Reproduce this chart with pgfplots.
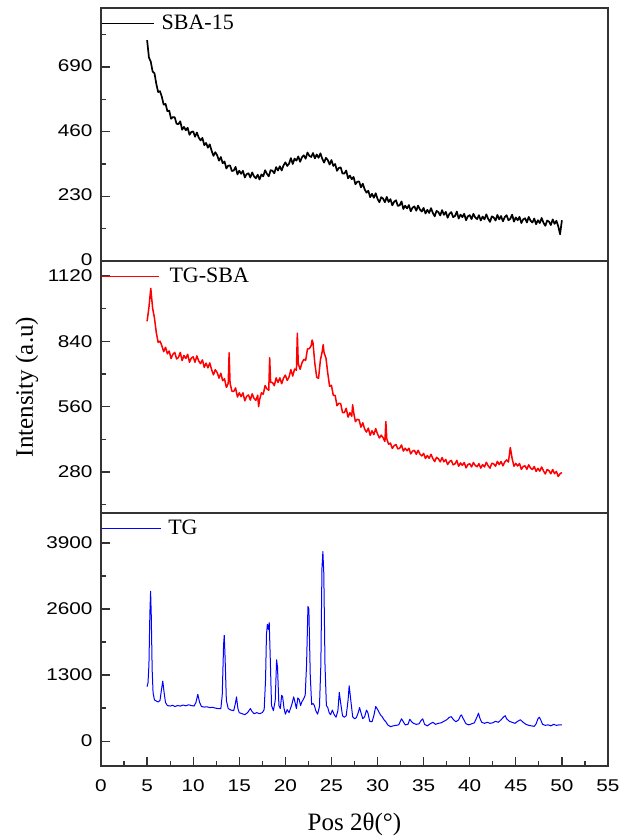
\documentclass[border=0pt]{standalone}
\usepackage{fontspec}
\setmainfont{Liberation Serif}
\setsansfont{Liberation Sans}
\newfontfamily\tickfont[FakeStretch=1.22]{Liberation Sans}
\usepackage{pgfplots}
\pgfplotsset{compat=1.18}
\pgfplotsset{
  panel/.style={
    scale only axis, width=507pt, xmin=0, xmax=55,
    axis line style={line width=1.4pt, black!80},
    tick align=inside, xtick pos=bottom, ytick pos=left,
    major tick length=9pt, minor tick length=5pt,
    every tick/.style={line width=1.2pt, black!80},
    tick label style={font=\tickfont\fontsize{17}{19}\selectfont},
    yticklabel style={xshift=-5pt},
    xticklabel style={yshift=-10pt},
    /pgf/number format/assume math mode=true,
    /pgf/number format/1000 sep={},
    scaled ticks=false,
    legend style={at={(0,1)}, anchor=north west, draw=none, fill=none,
      inner xsep=0pt, inner ysep=0pt, yshift=-7pt, nodes={inner sep=0pt},
      font=\fontsize{22}{24}\selectfont},
    legend cell align=left,
  },
}
\begin{document}
\begin{tikzpicture}
\useasboundingbox (0,0) rectangle (631pt,836pt);
% ---------------- top: SBA-15
\begin{axis}[panel, at={(101pt,575pt)}, anchor=south west, height=253pt,
  ymin=0, ymax=900, ytick={0,230,460,690}, minor ytick={115,345,575,805}, xtick=\empty,
  yticklabel style={yshift=1.5pt},
  legend image code/.code={\draw[#1, line width=1.2pt] (0pt,0pt) -- (52pt,0pt); \path (59pt,0pt);}]
\addplot[black, line width=1.7pt, line join=round, mark=none] coordinates {
(5.0,786)(5.2,724)(5.4,709)(5.6,674)(5.8,668)(6.0,630)(6.2,601)(6.4,604)(6.6,584)(6.8,556)
(7.0,559)(7.2,533)(7.4,535)(7.6,506)(7.8,512)(8.0,511)(8.2,488)(8.4,487)(8.6,497)(8.8,467)
(9.0,477)(9.2,465)(9.4,474)(9.6,449)(9.8,459)(10.0,461)(10.2,442)(10.4,457)(10.6,439)(10.8,429)
(11.0,438)(11.2,412)(11.4,420)(11.6,403)(11.8,415)(12.0,392)(12.2,374)(12.4,387)(12.6,376)(12.8,357)
(13.0,370)(13.2,348)(13.4,354)(13.6,329)(13.8,339)(14.0,340)(14.2,320)(14.4,322)(14.6,335)(14.8,308)
(15.0,321)(15.2,310)(15.4,321)(15.6,297)(15.8,309)(16.0,312)(16.2,297)(16.4,315)(16.6,301)(16.8,294)
(17.0,307)(17.2,290)(17.4,308)(17.6,301)(17.8,323)(18.0,310)(18.2,301)(18.4,323)(18.6,321)(18.8,312)
(19.0,334)(19.2,322)(19.4,337)(19.6,322)(19.8,340)(20.0,351)(20.2,338)(20.4,346)(20.6,366)(20.8,345)
(21.0,364)(21.2,357)(21.4,372)(21.6,353)(21.8,369)(22.0,376)(22.2,364)(22.4,386)(22.6,374)(22.8,370)
(23.0,384)(23.2,365)(23.4,379)(23.6,367)(23.8,383)(24.0,364)(24.2,350)(24.4,367)(24.6,359)(24.8,343)
(25.0,359)(25.2,338)(25.4,345)(25.6,321)(25.8,331)(26.0,333)(26.2,311)(26.4,311)(26.6,322)(26.8,294)
(27.0,304)(27.2,291)(27.4,299)(27.6,273)(27.8,282)(28.0,283)(28.2,262)(28.4,275)(28.6,255)(28.8,243)
(29.0,250)(29.2,227)(29.4,239)(29.6,225)(29.8,241)(30.0,221)(30.2,209)(30.4,227)(30.6,222)(30.8,209)
(31.0,228)(31.2,210)(31.4,220)(31.6,198)(31.8,211)(32.0,216)(32.2,196)(32.4,198)(32.6,212)(32.8,185)
(33.0,197)(33.2,187)(33.4,199)(33.6,177)(33.8,190)(34.0,194)(34.2,179)(34.4,197)(34.6,183)(34.8,176)
(35.0,189)(35.2,169)(35.4,182)(35.6,171)(35.8,188)(36.0,171)(36.2,159)(36.4,178)(36.6,174)(36.8,162)
(37.0,181)(37.2,164)(37.4,175)(37.6,154)(37.8,168)(38.0,174)(38.2,156)(38.4,160)(38.6,176)(38.8,151)
(39.0,165)(39.2,156)(39.4,168)(39.6,145)(39.8,159)(40.0,163)(40.2,149)(40.4,168)(40.6,155)(40.8,149)
(41.0,163)(41.2,144)(41.4,158)(41.6,148)(41.8,166)(42.0,150)(42.2,139)(42.4,159)(42.6,155)(42.8,144)
(43.0,164)(43.2,148)(43.4,160)(43.6,141)(43.8,156)(44.0,163)(44.2,145)(44.4,150)(44.6,165)(44.8,140)
(45.0,155)(45.2,145)(45.4,157)(45.6,135)(45.8,148)(46.0,152)(46.2,137)(46.4,157)(46.6,143)(46.8,137)
(47.0,151)(47.2,131)(47.4,145)(47.6,135)(47.8,153)(48.0,136)(48.2,125)(48.4,144)(48.6,140)(48.8,128)
(49.0,148)(49.2,132)(49.4,143)(49.6,124)(49.8,95)(50.0,145)
};
\addlegendentry{SBA-15}
\end{axis}
% ---------------- middle: TG-SBA
\begin{axis}[panel, at={(101pt,323pt)}, anchor=south west, height=252pt,
  ymin=105, ymax=1183, ytick={280,560,840,1120}, minor ytick={140,420,700,980}, xtick=\empty,
  ylabel={Intensity (a.u)},
  ylabel style={font=\fontsize{25}{27}\selectfont, at={(axis description cs:-0.146,0.5)}, anchor=center},
  legend image code/.code={\draw[#1, line width=1.2pt] (0pt,0pt) -- (57pt,0pt); \path (67pt,0pt);}]
\addplot[red, line width=1.5pt, line join=round, mark=none] coordinates {
(5.0,925)(5.2,984)(5.4,1066)(5.6,981)(5.8,939)(6.0,876)(6.2,835)(6.4,840)(6.6,821)(6.8,795)
(7.0,814)(7.2,786)(7.4,798)(7.6,766)(7.8,784)(8.0,792)(8.2,764)(8.4,770)(8.6,792)(8.8,757)
(9.0,779)(9.2,766)(9.4,784)(9.6,750)(9.8,768)(10.0,773)(10.2,750)(10.4,777)(10.6,755)(10.8,744)
(11.0,760)(11.2,728)(11.4,746)(11.6,726)(11.8,747)(12.0,718)(12.2,696)(12.4,718)(12.6,706)(12.8,682)
(13.0,703)(13.2,671)(13.4,679)(13.6,642)(13.8,659)(13.9,790)(14.0,660)(14.2,626)(14.4,625)(14.6,640)(14.8,601)
(15.0,619)(15.2,603)(15.4,619)(15.6,585)(15.8,604)(16.0,610)(16.2,588)(16.4,615)(16.6,595)(16.8,587)
(17.0,609)(17.1,560)(17.2,589)(17.4,619)(17.6,613)(17.8,650)(18.0,636)(18.2,630)(18.3,769)(18.4,664)(18.6,663)(18.8,650)
(19.0,683)(19.2,663)(19.4,683)(19.6,658)(19.8,682)(20.0,695)(20.2,672)(20.4,687)(20.6,718)(20.8,691)
(21.0,721)(21.2,716)(21.3,874)(21.4,743)(21.6,720)(21.8,747)(22.0,762)(22.2,758)(22.4,807)(22.6,808)(22.8,821)(22.9,845)
(23.0,832)(23.2,744)(23.4,686)(23.6,681)(23.8,759)(24.0,796)(24.1,825)(24.2,790)(24.4,769)(24.6,703)(24.8,647)
(25.0,651)(25.2,608)(25.4,608)(25.6,564)(25.8,574)(26.0,573)(26.2,535)(26.4,534)(26.6,553)(26.8,515)
(27.0,534)(27.2,519)(27.3,568)(27.4,537)(27.6,496)(27.8,506)(28.0,503)(28.2,472)(28.4,491)(28.6,464)(28.8,451)
(29.0,468)(29.2,437)(29.4,457)(29.6,440)(29.8,466)(30.0,443)(30.2,426)(30.4,438)(30.6,427)(30.8,411)(30.9,496)
(31.0,423)(31.2,399)(31.4,404)(31.6,381)(31.8,393)(32.0,398)(32.2,379)(32.4,382)(32.6,396)(32.8,370)
(33.0,382)(33.2,371)(33.4,382)(33.6,358)(33.8,370)(34.0,373)(34.2,356)(34.4,373)(34.6,357)(34.8,349)
(35.0,360)(35.2,338)(35.4,351)(35.6,339)(35.8,356)(36.0,338)(36.2,325)(36.4,343)(36.6,337)(36.8,324)
(37.0,342)(37.2,324)(37.4,334)(37.6,312)(37.8,325)(38.0,330)(38.2,311)(38.4,315)(38.6,330)(38.8,305)
(39.0,319)(39.2,309)(39.4,321)(39.6,298)(39.8,312)(40.0,316)(40.2,302)(40.4,321)(40.6,308)(40.8,303)
(41.0,316)(41.2,297)(41.4,312)(41.6,302)(41.8,322)(42.0,307)(42.2,297)(42.4,318)(42.6,315)(42.8,305)
(43.0,326)(43.2,312)(43.4,325)(43.6,307)(43.8,323)(44.0,332)(44.2,323)(44.4,385)(44.6,338)(44.8,305)
(45.0,317)(45.2,306)(45.4,317)(45.6,292)(45.8,304)(46.0,307)(46.2,292)(46.4,311)(46.6,297)(46.8,291)
(47.0,304)(47.2,283)(47.4,296)(47.6,284)(47.8,302)(48.0,285)(48.2,272)(48.4,291)(48.6,286)(48.8,273)
(49.0,291)(49.2,273)(49.4,283)(49.6,261)(49.8,273)(50.0,278)
};
\addlegendentry{TG-SBA}
\end{axis}
% ---------------- bottom: TG
\begin{axis}[panel, at={(101pt,70pt)}, anchor=south west, height=253pt,
  ymin=-490, ymax=4490, ytick={0,1300,2600,3900}, minor ytick={650,1950,3250},
  xtick={0,5,...,55}, minor x tick num=1,
  xlabel={Pos 2θ(°)},
  xlabel style={font=\fontsize{25}{27}\selectfont, at={(axis description cs:0.5,-0.253)}, anchor=base},
  legend image code/.code={\draw[#1, line width=1.2pt] (0pt,0pt) -- (59pt,0pt); \path (66pt,0pt);}]
\addplot[blue, line width=1pt, line join=round, mark=none] coordinates {
(5.0,1072)(5.1,1150)(5.2,1500)(5.3,2500)(5.38,2950)(5.45,2500)(5.55,1400)(5.65,950)(5.8,810)(6.0,790)
(6.2,770)(6.4,800)(6.55,1000)(6.7,1180)(6.85,950)(7.0,760)(7.2,700)(7.5,690)(7.8,705)(8.0,680)
(8.3,700)(8.6,690)(8.9,710)(9.2,695)(9.5,715)(9.8,700)(10.1,690)(10.3,760)(10.5,920)(10.7,760)
(10.9,680)(11.2,670)(11.5,675)(11.8,660)(12.1,665)(12.4,650)(12.7,640)(13.0,640)(13.15,900)(13.3,1900)
(13.37,2080)(13.45,1700)(13.6,800)(13.8,640)(14.1,610)(14.4,600)(14.6,760)(14.7,870)(14.85,640)(15.0,560)
(15.3,540)(15.6,520)(15.9,560)(16.2,640)(16.4,580)(16.6,540)(16.9,560)(17.2,540)(17.5,560)(17.7,620)
(17.85,1200)(17.95,2100)(18.05,2300)(18.15,2200)(18.25,2330)(18.35,1700)(18.5,700)(18.7,600)(18.9,800)(19.05,1600)
(19.15,1450)(19.3,700)(19.45,640)(19.6,900)(19.7,880)(19.85,650)(20.0,530)(20.2,620)(20.4,560)(20.55,640)
(20.7,720)(20.9,870)(21.05,760)(21.2,640)(21.35,850)(21.5,820)(21.65,700)(21.8,780)(21.95,820)(22.15,900)
(22.3,1500)(22.45,2650)(22.55,2600)(22.7,1300)(22.85,720)(23.0,740)(23.15,700)(23.3,600)(23.5,530)(23.7,680)
(23.85,1500)(23.97,3400)(24.07,3730)(24.17,3300)(24.3,1500)(24.45,700)(24.6,660)(24.75,560)(24.9,520)(25.1,610)
(25.3,520)(25.5,470)(25.7,600)(25.85,960)(26.0,750)(26.2,500)(26.4,470)(26.6,500)(26.8,800)(26.92,1090)
(27.1,800)(27.3,480)(27.5,440)(27.7,460)(27.9,560)(28.05,660)(28.2,560)(28.4,440)(28.6,480)(28.8,610)
(28.95,560)(29.15,390)(29.4,380)(29.6,500)(29.8,680)(29.95,640)(30.1,590)(30.3,520)(30.5,480)(30.7,420)
(30.9,380)(31.1,320)(31.4,285)(31.7,300)(32.0,310)(32.3,320)(32.6,440)(32.8,380)(33.0,320)(33.3,330)
(33.5,430)(33.7,380)(33.9,350)(34.2,330)(34.5,340)(34.7,400)(34.9,440)(35.1,330)(35.4,300)(35.7,340)
(36.0,370)(36.3,330)(36.6,350)(36.9,360)(37.2,390)(37.5,420)(37.8,470)(38.0,480)(38.2,430)(38.5,380)
(38.8,420)(39.0,500)(39.1,515)(39.3,440)(39.6,340)(39.9,320)(40.2,340)(40.5,360)(40.8,480)(40.95,550)
(41.1,450)(41.3,370)(41.6,350)(41.9,370)(42.2,350)(42.5,360)(42.8,390)(43.1,370)(43.4,420)(43.7,480)
(43.85,500)(44.0,440)(44.3,390)(44.6,370)(44.9,350)(45.2,390)(45.5,420)(45.8,370)(46.1,330)(46.4,310)
(46.7,300)(47.0,290)(47.2,340)(47.4,440)(47.55,470)(47.7,420)(47.9,330)(48.2,310)(48.5,320)(48.8,300)
(49.1,330)(49.4,310)(49.7,320)(50.0,320)
};
\addlegendentry{TG}
\end{axis}
\end{tikzpicture}
\end{document}
